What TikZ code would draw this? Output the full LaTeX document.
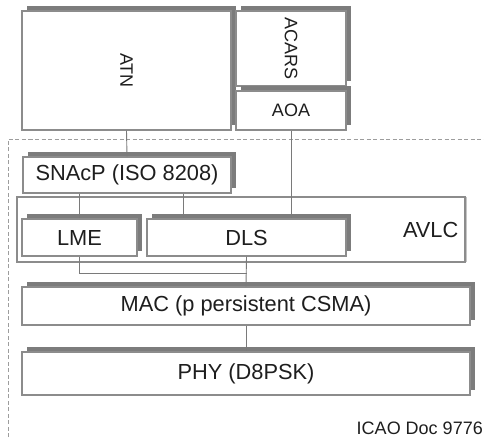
\documentclass[tikz,border=0pt]{standalone}
\usepackage{fontspec}
\setmainfont{Liberation Sans}
\usetikzlibrary{shadows,calc}
\definecolor{txt}{HTML}{1E1E1E}
\definecolor{bord}{HTML}{8C8C8C}
\definecolor{shad}{HTML}{7C7C7C}
\definecolor{conn}{HTML}{7A7A7A}
\tikzset{
  box/.style={draw=bord, line width=1.1pt, fill=white, inner sep=0pt, text=txt,
    copy shadow={shadow xshift=5pt, shadow yshift=5pt, fill=shad, draw=none}},
  thinbox/.style={draw=bord, line width=1.1pt, fill=white, inner sep=0pt, text=txt,
    copy shadow={shadow xshift=2pt, shadow yshift=0pt, fill=bord!50, draw=none}},
  big/.style={font=\fontsize{21.8}{24}\selectfont},
  small/.style={font=\fontsize{18}{20}\selectfont},
  conn/.style={draw=conn, line width=0.9pt},
  frame/.style={draw=bord!85, line width=0.9pt, dash pattern=on 4pt off 2.5pt}
}
\begin{document}
\begin{tikzpicture}[x=1pt,y=-1pt]
\useasboundingbox (0,0) rectangle (484,441);
% dashed frame
\coordinate (fa) at (8,437);
\coordinate (fb) at (8,139);
\coordinate (fc) at (484,139);
\draw[frame] (fa) -- (fb) -- (fc);
% top boxes
\node[box, small, minimum width=209pt, minimum height=119pt] (ATN) at (126.5,70.5) {\rotatebox{-90}{ATN}};
\node[box, small, minimum width=110pt, minimum height=75pt] (ACARS) at (291,48.5) {\rotatebox{-90}{ACARS}};
\node[box, small, minimum width=110pt, minimum height=39pt] (AOA) at (291,110.5) {AOA};
% SNAcP
\node[box, big, minimum width=208pt, minimum height=36pt] (SNAcP) at (127,175) {SNAcP (ISO 8208)};
% AVLC
\node[thinbox, big, minimum width=448pt, minimum height=65pt,
  label={[anchor=east, inner sep=0pt, xshift=-7pt, text=txt, big]east:AVLC}] (AVLC) at (241,229.5) {};
\node[box, big, minimum width=115pt, minimum height=37pt] (LME) at (79.5,237.5) {LME};
\node[box, big, minimum width=199pt, minimum height=37pt] (DLS) at (246.5,237.5) {DLS};
% MAC / PHY
\node[box, big, minimum width=448pt, minimum height=38pt] (MAC) at (246,306) {MAC (p persistent CSMA)};
\node[box, big, minimum width=448pt, minimum height=43pt] (PHY) at (246,373.5) {PHY (D8PSK)};
% caption
\node[anchor=east, inner sep=0pt, text=txt, small] (cap) at (483,428) {ICAO Doc 9776};
% connectors
\coordinate (s2) at (183,0);
\coordinate (j) at (246.5,273);
\draw[conn] (ATN.south) -- (SNAcP.north);
\draw[conn] (AOA.south) -- (AOA.south |- DLS.north);
\draw[conn] (LME.north |- SNAcP.south) -- (LME.north);
\draw[conn] (SNAcP.south -| s2) -- (DLS.north -| s2);
\draw[conn] (LME.south) |- (j);
\draw[conn] (DLS.south) -- (MAC.north);
\draw[conn] (MAC.south) -- (PHY.north);
\end{tikzpicture}
\end{document}
